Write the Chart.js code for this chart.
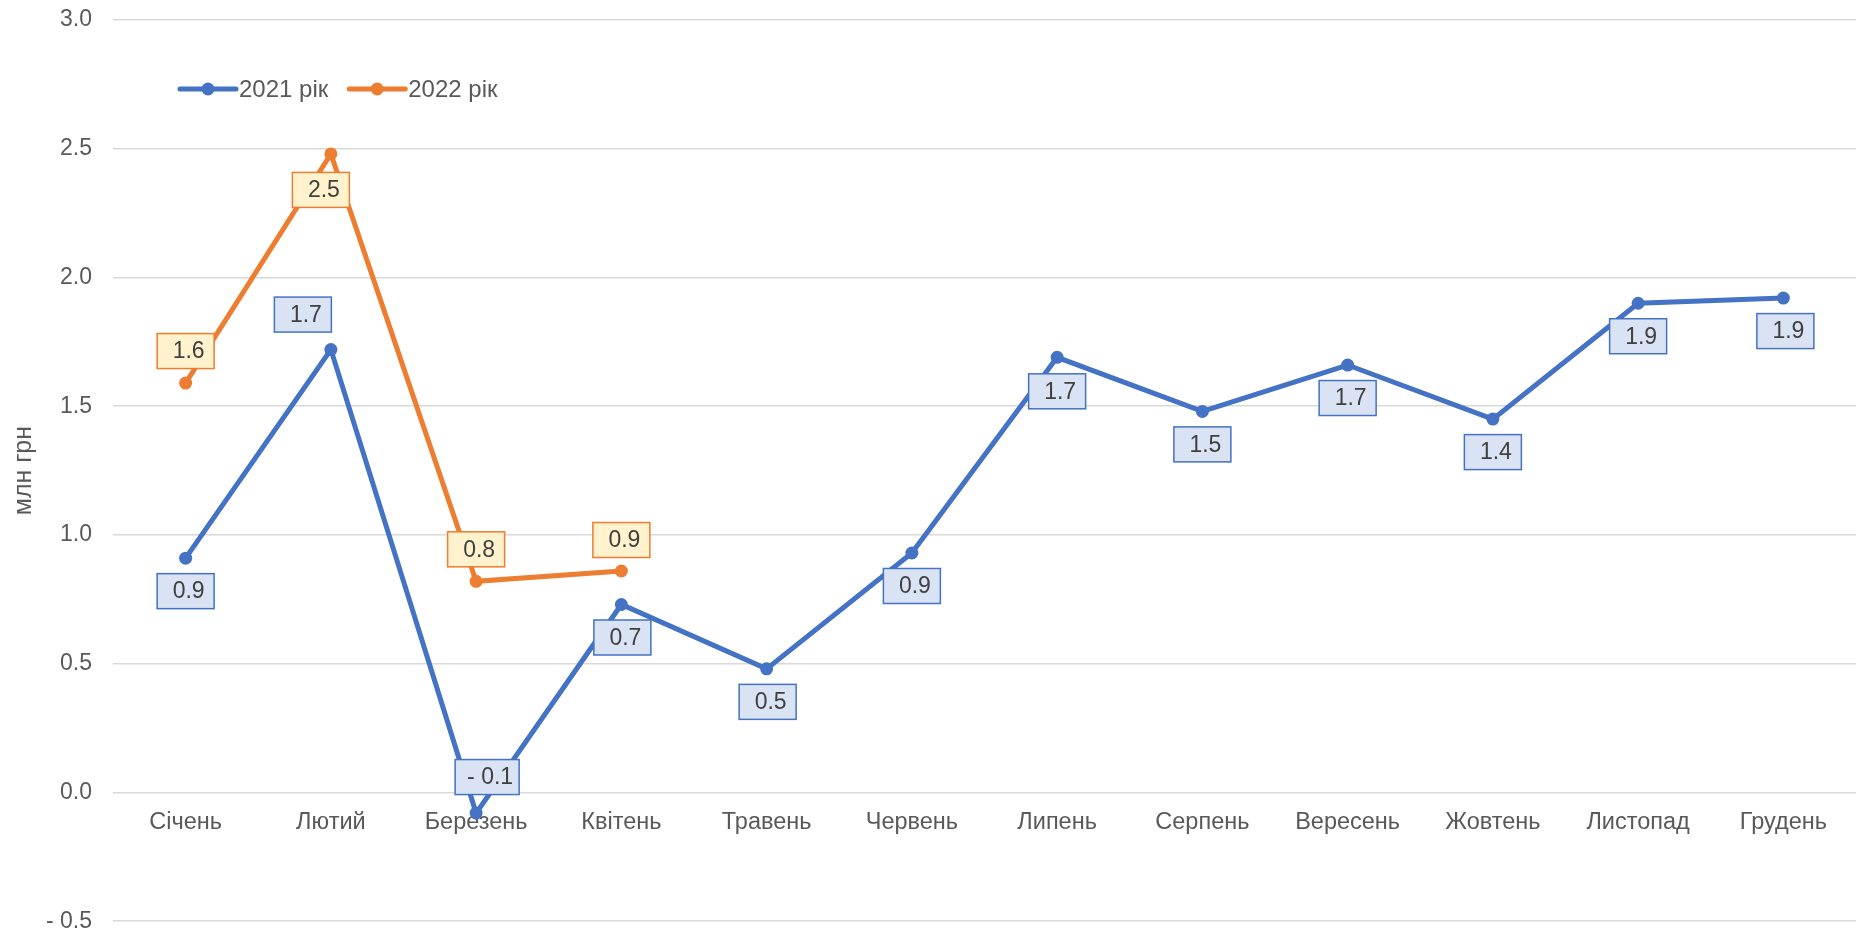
<!DOCTYPE html>
<html>
<head>
<meta charset="utf-8">
<script src="https://cdn.jsdelivr.net/npm/chart.js@4/dist/chart.umd.min.js"></script>
<style>
  body { margin: 0; background: #fff; }
  #wrap { width: 1867px; height: 935px; }
</style>
</head>
<body>
<div id="wrap"><canvas id="myChart"></canvas></div>
<script>
'use strict';

let months = ['Січень', 'Лютий', 'Березень', 'Квітень', 'Травень', 'Червень', 'Липень', 'Серпень', 'Вересень', 'Жовтень', 'Листопад', 'Грудень'];
let values2021 = [0.91, 1.72, -0.08, 0.73, 0.48, 0.93, 1.69, 1.48, 1.66, 1.45, 1.90, 1.92];
let values2022 = [1.59, 2.48, 0.82, 0.86];
let seriesNames = ['2021 рік', '2022 рік'];
let yTicks = [-0.5, 0, 0.5, 1, 1.5, 2, 2.5, 3];

// label box offsets from the point (px)
let labelShift2021 = [[0, 33], [-28, -35], [11, -36], [1, 33], [1, 33], [0, 33], [0, 34], [0, 33], [0, 33], [0, 33], [0, 33], [2, 33]];
let labelShift2022 = [[0, -32], [-10, 36], [0, -32], [0, -31]];

let blue = '#4472C4';
let orange = '#ED7D31';
let font = '"Liberation Sans", Arial, sans-serif';

function fmt(v) {
    let s = Math.abs(v).toFixed(1);
    return v < -0.0001 ? '- ' + s : s;
}

let boxLabels = {
    id: 'boxLabels',
    afterDatasetsDraw(chart) {
        let ctx = chart.ctx;
        let styles = [
            { fill: '#DAE3F3', stroke: blue, shift: labelShift2021 },
            { fill: '#FFF2CC', stroke: orange, shift: labelShift2022 }
        ];
        ctx.save();
        ctx.font = '23px ' + font;
        ctx.textAlign = 'center';
        ctx.textBaseline = 'middle';
        chart.data.datasets.forEach(function (ds, d) {
            let meta = chart.getDatasetMeta(d);
            meta.data.forEach(function (pt, i) {
                let text = fmt(ds.data[i]);
                let w = Math.max(57, ctx.measureText(text).width + 18);
                let h = 35;
                let cx = pt.x + styles[d].shift[i][0];
                let cy = pt.y + styles[d].shift[i][1];
                ctx.fillStyle = styles[d].fill;
                ctx.fillRect(cx - w / 2, cy - h / 2, w, h);
                ctx.lineWidth = 1.5;
                ctx.strokeStyle = styles[d].stroke;
                ctx.strokeRect(cx - w / 2, cy - h / 2, w, h);
                ctx.fillStyle = '#404040';
                ctx.fillText(text, cx + 3, cy + 1);
            });
        });
        ctx.restore();
    }
};

let lineLegend = {
    id: 'lineLegend',
    afterDraw(chart) {
        let ctx = chart.ctx;
        let area = chart.chartArea;
        let y = 89;
        let x = area.left + 67;
        let colors = [blue, orange];
        ctx.save();
        ctx.font = '24px ' + font;
        ctx.textBaseline = 'middle';
        seriesNames.forEach(function (name, i) {
            ctx.strokeStyle = colors[i];
            ctx.lineWidth = 5;
            ctx.lineCap = 'round';
            ctx.beginPath();
            ctx.moveTo(x, y);
            ctx.lineTo(x + 56, y);
            ctx.stroke();
            ctx.fillStyle = colors[i];
            ctx.beginPath();
            ctx.arc(x + 28, y, 6.5, 0, Math.PI * 2);
            ctx.fill();
            ctx.fillStyle = '#595959';
            ctx.fillText(name, x + 59, y + 1);
            x += 59 + ctx.measureText(name).width + 21;
        });
        ctx.restore();
    }
};

let ctx = document.getElementById('myChart').getContext('2d');
let myChart = new Chart(ctx, {
    type: 'line',
    data: {
        labels: months,
        datasets: [{
            label: seriesNames[0],
            data: values2021,
            borderColor: blue,
            backgroundColor: blue,
            borderWidth: 5,
            pointRadius: 6.5,
            pointHoverRadius: 6.5,
            pointBorderWidth: 0,
            tension: 0
        }, {
            label: seriesNames[1],
            data: values2022,
            borderColor: orange,
            backgroundColor: orange,
            borderWidth: 5,
            pointRadius: 6.5,
            pointHoverRadius: 6.5,
            pointBorderWidth: 0,
            tension: 0
        }]
    },
    options: {
        responsive: true,
        maintainAspectRatio: false,
        animation: false,
        layout: { padding: { top: 20, right: 11, bottom: 0, left: 0 } },
        plugins: {
            legend: { display: false },
            tooltip: { enabled: false }
        },
        scales: {
            x: {
                position: { y: 0 },
                offset: true,
                grid: { display: false, drawTicks: false },
                border: { display: false },
                ticks: {
                    color: '#595959',
                    font: { family: font, size: 23.5 },
                    padding: 16,
                    maxRotation: 0,
                    autoSkip: false
                }
            },
            y: {
                min: -0.5,
                max: 3,
                afterBuildTicks: function (scale) {
                    scale.ticks = yTicks.map(function (v) { return { value: v }; });
                },
                afterFit: function (scale) {
                    scale.width = 113;
                },
                grid: { color: '#D9D9D9', lineWidth: 1.5, drawTicks: true, tickLength: 21, tickColor: 'rgba(0,0,0,0)' },
                border: { display: false },
                ticks: {
                    color: '#595959',
                    font: { family: font, size: 23 },
                    padding: 0,
                    callback: function (v) { return fmt(v); }
                },
                title: {
                    display: true,
                    text: 'млн грн',
                    color: '#595959',
                    font: { family: font, size: 25 },
                    padding: { top: 9, bottom: 0 }
                }
            }
        }
    },
    plugins: [boxLabels, lineLegend]
});
</script>
</body>
</html>
